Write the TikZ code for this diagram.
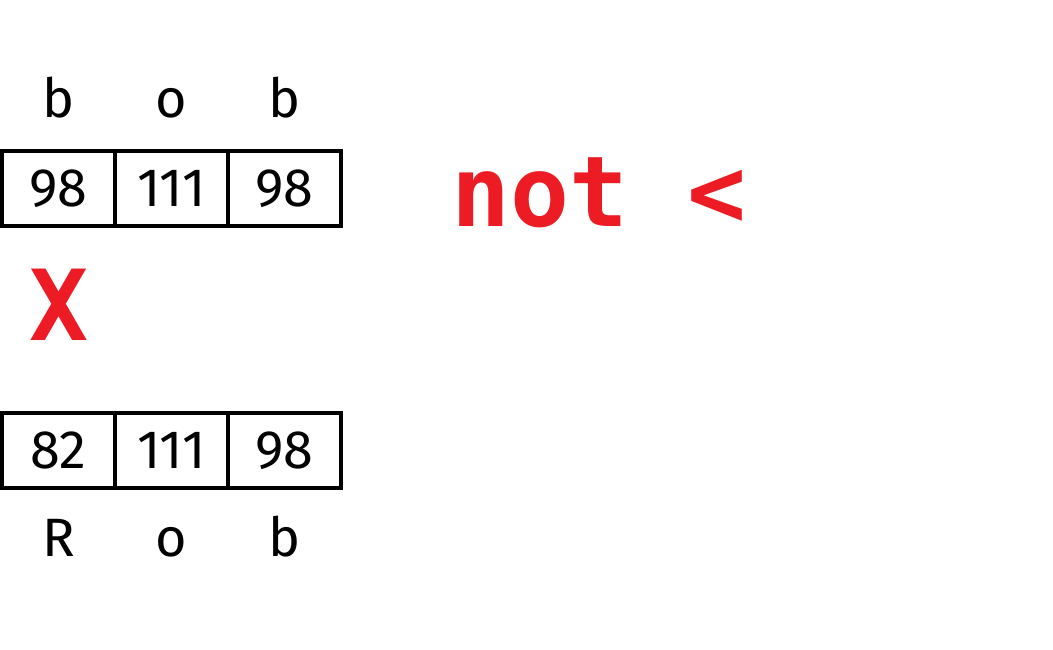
\documentclass[tikz,border=0pt]{standalone}
\usepackage{fontspec}
\setmainfont{Fira Sans}
\newfontfamily\codefont{DejaVu Sans Mono}
\definecolor{warnred}{RGB}{237,28,36}

\begin{document}
\begin{tikzpicture}[x=1pt,y=-1pt,
    cell/.style={draw,line width=3.2pt,minimum width=113pt,minimum height=75pt,
                 inner sep=0pt,outer sep=0pt,font=\fontsize{54}{60}\selectfont},
    letter/.style={anchor=base,inner sep=0pt,font=\fontsize{54}{60}\selectfont},
    flag/.style={inner sep=0pt,text=warnred,font=\codefont\bfseries\fontsize{98}{110}\selectfont}]
    \useasboundingbox (0,0) rectangle (1053,649);
    % first string
    \node[letter] (t1) at (58.5,117) {b};
    \node[letter] (t2) at (171.5,117) {o};
    \node[letter] (t3) at (284.5,117) {b};
    \node[cell] (a1) at (58.5,188.5) {98};
    \node[cell] (a2) at (171.5,188.5) {111};
    \node[cell] (a3) at (284.5,188.5) {98};
    % second string
    \node[cell] (b1) at (58.5,450.5) {82};
    \node[cell] (b2) at (171.5,450.5) {111};
    \node[cell] (b3) at (284.5,450.5) {98};
    \node[letter] (u1) at (58.5,556) {R};
    \node[letter] (u2) at (171.5,556) {o};
    \node[letter] (u3) at (284.5,556) {b};
    % marks
    \node[flag,anchor=base] (cross) at (59,340) {X};
    \node[flag,anchor=base west] (verdict) at (451,226) {not~<};
\end{tikzpicture}
\end{document}
